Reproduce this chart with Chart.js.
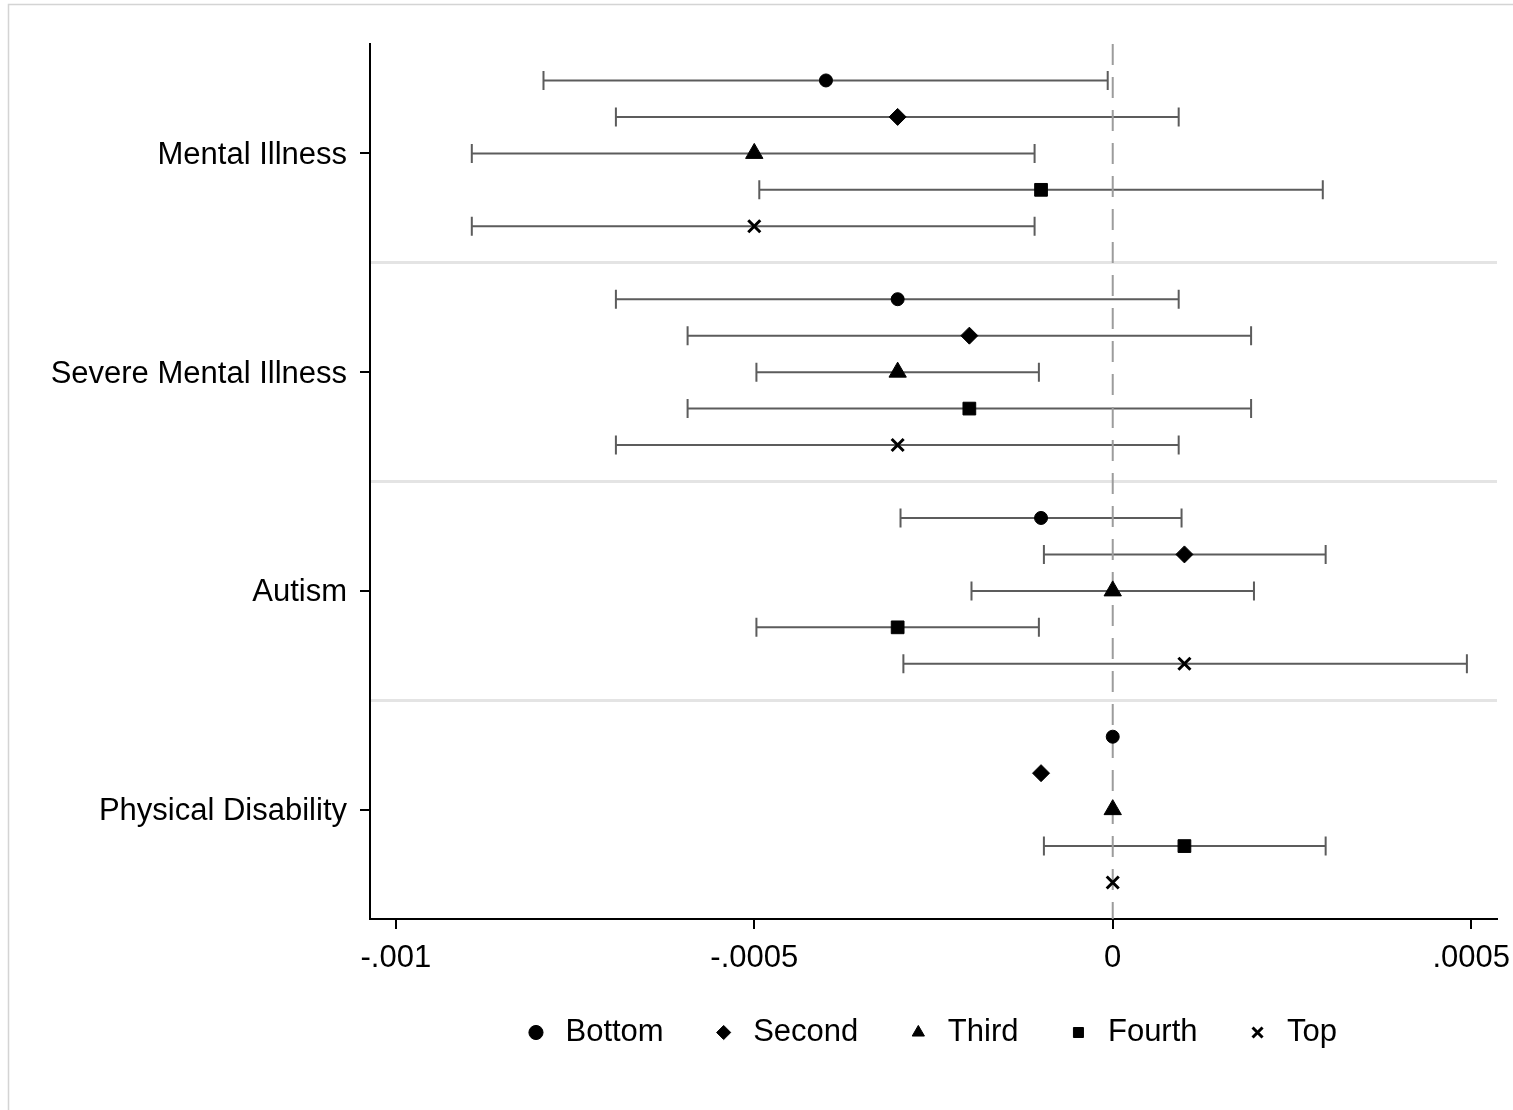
<!DOCTYPE html>
<html>
<head>
<meta charset="utf-8">
<script src="https://cdn.jsdelivr.net/npm/chart.js@4.4.1/dist/chart.umd.min.js"></script>
<style>
  html, body { margin: 0; padding: 0; background: #fff; }
  canvas { display: block; }
</style>
</head>
<body>
<canvas id="chart" width="1513" height="1110"></canvas>
<script>
// --- DATOS ---
const groups = ['Mental Illness', 'Severe Mental Illness', 'Autism', 'Physical Disability'];
const seriesNames = ['Bottom', 'Second', 'Third', 'Fourth', 'Top'];
const pointStyles = ['circle', 'rectRot', 'triangle', 'rect', 'crossRot'];
const xTicks = [-0.001, -0.0005, 0, 0.0005];
const xTickLabels = ['-.001', '-.0005', '0', '.0005'];
const xMin = -0.001036, xMax = 0.000536;

// estimate + CI per group (null = no interval)
const bottomEst = [-0.0004, -0.0003, -0.0001, 0];
const bottomLo  = [-0.000794, -0.000693, -0.000296, null];
const bottomHi  = [-0.000007, 0.000092, 0.000096, null];

const secondEst = [-0.0003, -0.0002, 0.0001, -0.0001];
const secondLo  = [-0.000693, -0.000593, -0.000096, null];
const secondHi  = [0.000092, 0.000193, 0.000297, null];

const thirdEst = [-0.0005, -0.0003, 0, 0];
const thirdLo  = [-0.000894, -0.000497, -0.000197, null];
const thirdHi  = [-0.000109, -0.000103, 0.000197, null];

const fourthEst = [-0.0001, -0.0002, -0.0003, 0.0001];
const fourthLo  = [-0.000493, -0.000593, -0.000497, -0.000096];
const fourthHi  = [0.000293, 0.000193, -0.000103, 0.000297];

const topEst = [-0.0005, -0.0003, 0.0001, 0];
const topLo  = [-0.000894, -0.000693, -0.000292, null];
const topHi  = [-0.000109, 0.000092, 0.000494, null];

const ests = [bottomEst, secondEst, thirdEst, fourthEst, topEst];
const los = [bottomLo, secondLo, thirdLo, fourthLo, topLo];
const his = [bottomHi, secondHi, thirdHi, fourthHi, topHi];
const radii = [6.5, 8.5, 10, 9, 8.5];

Chart.defaults.font.family = "'Liberation Sans', Arial, Helvetica, sans-serif";
Chart.defaults.font.size = 31;
Chart.defaults.color = '#000';

// --- PLUGINS ---
const frame = {
  id: 'frame',
  beforeDraw(chart) {
    const ctx = chart.ctx;
    ctx.save();
    ctx.fillStyle = '#fff';
    ctx.fillRect(0, 0, chart.width, chart.height);
    ctx.strokeStyle = '#d4d4d4';
    ctx.lineWidth = 1.5;
    ctx.beginPath();
    ctx.moveTo(8.5, chart.height);
    ctx.lineTo(8.5, 4.5);
    ctx.lineTo(chart.width, 4.5);
    ctx.stroke();
    ctx.restore();
  }
};

const errorBars = {
  id: 'errorBars',
  beforeDatasetsDraw(chart) {
    const {ctx, scales: {x, y}} = chart;
    ctx.save();
    ctx.strokeStyle = '#5c5c5c';
    ctx.lineWidth = 2;
    chart.data.datasets.forEach(ds => {
      if (!ds.ci) return;
      ds.data.forEach(p => {
        if (p.lo == null) return;
        const py = y.getPixelForValue(p.y);
        const x0 = x.getPixelForValue(p.lo);
        const x1 = x.getPixelForValue(p.hi);
        ctx.beginPath();
        ctx.moveTo(x0, py); ctx.lineTo(x1, py);
        ctx.moveTo(x0, py - 9.5); ctx.lineTo(x0, py + 9.5);
        ctx.moveTo(x1, py - 9.5); ctx.lineTo(x1, py + 9.5);
        ctx.stroke();
      });
    });
    ctx.restore();
  }
};

// legend centred under the plot area, not the whole canvas
const legendUnderPlot = {
  id: 'legendUnderPlot',
  afterLayout(chart) {
    const a = chart.chartArea;
    chart.legend.left = a.left - 4;
    chart.legend.right = a.right - 4;
  }
};

// --- DATASETS ---
const datasets = seriesNames.map((name, k) => ({
  label: name,
  ci: true,
  data: groups.map((g, i) => ({ x: ests[k][i], y: i + (k - 2) / 6, lo: los[k][i], hi: his[k][i] })),
  pointStyle: pointStyles[k],
  pointRadius: radii[k],
  pointBackgroundColor: '#000',
  pointBorderColor: '#000',
  pointBorderWidth: pointStyles[k] === 'crossRot' ? 3 : 1,
  showLine: false
}));

datasets.push({
  label: '',
  data: [{ x: 0, y: -0.5 }, { x: 0, y: groups.length - 0.5 }],
  showLine: true,
  borderColor: '#9c9c9c',
  borderWidth: 2,
  borderDash: [21, 12],
  pointRadius: 0,
  order: 10
});

new Chart(document.getElementById('chart'), {
  type: 'scatter',
  data: { datasets },
  plugins: [frame, errorBars, legendUnderPlot],
  options: {
    responsive: false,
    animation: false,
    events: [],
    layout: { padding: { top: 44, left: 8, right: 16, bottom: 52 } },
    plugins: {
      tooltip: { enabled: false },
      legend: {
        position: 'bottom',
        labels: {
          usePointStyle: true,
          boxWidth: 28,
          boxHeight: 10,
          padding: 46,
          color: '#000',
          font: { size: 31 },
          filter: item => item.text !== ''
        }
      }
    },
    scales: {
      x: {
        type: 'linear',
        min: xMin,
        max: xMax,
        afterBuildTicks: s => { s.ticks = xTicks.map(v => ({ value: v })); },
        afterFit: s => { s.height = 52; s.paddingLeft = 0; s.paddingRight = 0; },
        ticks: {
          callback: (v, i) => xTickLabels[i],
          padding: 11,
          maxRotation: 0,
          autoSkip: false,
          color: '#000'
        },
        grid: { drawOnChartArea: false, tickLength: 10, color: '#000', lineWidth: 2 },
        border: { display: true, color: '#000', width: 2 }
      },
      y: {
        type: 'linear',
        reverse: true,
        min: -0.5,
        max: groups.length - 0.5,
        afterBuildTicks: s => { s.ticks = groups.map((g, i) => ({ value: i })); },
        afterFit: s => { s.width = 362; },
        ticks: { callback: (v, i) => groups[i], padding: 13, labelOffset: 2, color: '#000' },
        grid: { drawOnChartArea: false, tickLength: 10, color: '#000', lineWidth: 2 },
        border: { display: true, color: '#000', width: 2 }
      },
      ySep: {
        type: 'linear',
        position: 'right',
        reverse: true,
        min: -0.5,
        max: groups.length - 0.5,
        afterBuildTicks: s => { s.ticks = groups.slice(1).map((g, i) => ({ value: i + 0.5 })); },
        afterFit: s => { s.width = 0; },
        ticks: { display: false },
        grid: { drawTicks: false, color: '#e4e4e4', lineWidth: 3 },
        border: { display: false }
      }
    }
  }
});
</script>
</body>
</html>
